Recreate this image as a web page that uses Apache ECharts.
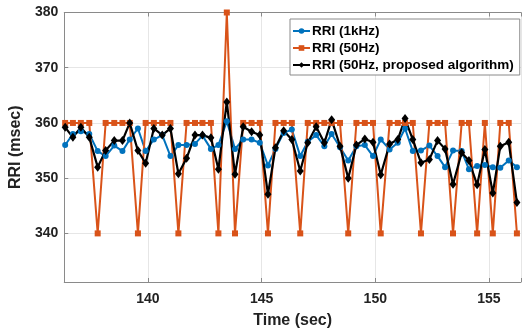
<!DOCTYPE html>
<html>
<head>
<meta charset="utf-8">
<script src="https://cdn.jsdelivr.net/npm/echarts@6.0.0/dist/echarts.min.js"></script>
<style>
html,body{margin:0;padding:0;background:#fff;}
#chart{width:524px;height:334px;}
</style>
</head>
<body>
<div id="chart"></div>
<script>
// Beat times (sec)
const times = [136.36,136.70,137.05,137.42,137.79,138.14,138.52,138.88,139.20,139.56,
  139.90,140.26,140.63,140.99,141.34,141.70,142.07,142.40,142.77,143.10,
  143.47,143.83,144.19,144.56,144.92,145.28,145.61,145.97,146.33,146.70,
  147.03,147.40,147.76,148.08,148.45,148.81,149.17,149.54,149.90,150.24,
  150.63,150.99,151.31,151.65,152.01,152.38,152.74,153.07,153.42,153.80,
  154.12,154.48,154.82,155.17,155.50,155.87,156.23];
// RRI (1kHz)
const rri1k = [356,358,358.5,358,354.9,354.0,355.9,354.9,357,359,
  354.9,357,357.8,354,356,356,356.2,357.7,355.3,356,
  360.3,355.3,357,357,356.4,352.3,355.3,358.2,358.8,354,
  356.6,357.8,355.8,358,355.6,353.2,355.8,356,354,357,
  355.2,356.4,359,354.9,355,355.9,354,352,355,354.9,
  351.6,352.2,352.4,352,351.9,353.2,352];
// RRI (50Hz)
const rri50 = [360,360,360,360,340,360,360,360,360,340,
  360,360,360,360,340,360,360,360,360,340,
  380,340,360,360,360,340,360,360,360,340,
  360,360,360,360,360,340,360,360,360,340,
  360,360,360,360,340,360,360,360,340,360,
  360,340,360,340,360,360,340];
// RRI (50Hz, proposed algorithm)
const rriProp = [359.2,357.4,359.2,357.4,352.0,355.0,356.8,356.8,360.0,355.0,
  352.7,359.0,357.8,359.0,350.8,353.6,357.8,357.8,357.3,351.6,
  363.8,350.7,359.3,358.4,357.8,347.1,355.5,358.6,357.0,351.3,
  356.4,359.3,356.4,360.6,355.8,350.0,356.0,357.1,356.5,350.6,
  356.2,357.0,360.8,357.0,352.8,353.4,356.8,355.3,348.9,354.6,
  353.2,348.8,355.2,347.3,355.8,356.5,345.6];
const seriesNames = ['RRI (1kHz)', 'RRI (50Hz)', 'RRI (50Hz, proposed algorithm)'];
const xRange = [136.32, 156.41];
const yRange = [331.2, 380];
const xTickStep = 5;
const yTickStep = 10;

const pairs = arr => times.map((t, i) => [t, arr[i]]);
const isMult = (v, s) => Math.abs(v / s - Math.round(v / s)) < 1e-6;
const FONT = '"Liberation Sans", Arial, sans-serif';
const axisGray = '#8a8a8a';

const chart = echarts.init(document.getElementById('chart'), null, {renderer: 'canvas'});
chart.setOption({
  animation: false,
  backgroundColor: '#ffffff',
  grid: {left: 64, top: 12.5, right: 0, bottom: 48, containLabel: false},
  legend: {
    orient: 'vertical',
    left: 290, top: 19,
    data: seriesNames,
    itemWidth: 17, itemHeight: 7, itemGap: 3,
    padding: [5, 6, 3, 2],
    backgroundColor: '#ffffff',
    borderColor: '#8a8a8a', borderWidth: 1, borderRadius: 0,
    textStyle: {fontFamily: FONT, fontSize: 13.5, fontWeight: 'bold', color: '#000', padding: [0,0,0,-3]}
  },
  xAxis: [{
    type: 'value', min: xRange[0], max: xRange[1], splitNumber: 4,
    name: 'Time (sec)', nameLocation: 'middle', nameGap: 31,
    nameTextStyle: {fontFamily: FONT, fontSize: 16, fontWeight: 'bold', color: '#222'},
    axisLine: {show: true, lineStyle: {color: axisGray, width: 1}},
    axisTick: {show: true, inside: true, length: 4, lineStyle: {color: axisGray}},
    axisLabel: {margin: 10, fontFamily: FONT, fontSize: 14, fontWeight: 'bold', color: '#222',
      formatter: v => isMult(v, xTickStep) ? String(Math.round(v)) : ''},
    splitLine: {show: true, lineStyle: {color: '#e6e6e6', width: 1}}
  }, {
    type: 'value', position: 'top', min: xRange[0], max: xRange[1], splitNumber: 4,
    axisLine: {show: true, lineStyle: {color: axisGray, width: 1}},
    axisTick: {show: true, inside: true, length: 4, lineStyle: {color: axisGray}},
    axisLabel: {show: false}, splitLine: {show: false}
  }],
  yAxis: {
    type: 'value', min: yRange[0], max: yRange[1], splitNumber: 5,
    name: 'RRI (msec)', nameLocation: 'middle', nameGap: 26,
    nameTextStyle: {fontFamily: FONT, fontSize: 16, fontWeight: 'bold', color: '#222'},
    axisLine: {show: true, lineStyle: {color: axisGray, width: 1}},
    axisTick: {show: true, inside: true, length: 4, lineStyle: {color: axisGray}},
    axisLabel: {margin: 6, fontFamily: FONT, fontSize: 14, fontWeight: 'bold', color: '#222',
      formatter: v => isMult(v, yTickStep) ? String(Math.round(v)) : ''},
    splitLine: {show: true, lineStyle: {color: '#e6e6e6', width: 1}}
  },
  series: [{
    name: seriesNames[0], type: 'line', data: pairs(rri1k), xAxisIndex: 0,
    symbol: 'circle', symbolSize: 6, showAllSymbol: true,
    lineStyle: {color: '#0072BD', width: 2}, itemStyle: {color: '#0072BD'}
  }, {
    name: seriesNames[1], type: 'line', data: pairs(rri50), xAxisIndex: 0,
    symbol: 'rect', symbolSize: 6, showAllSymbol: true,
    lineStyle: {color: '#D95319', width: 2}, itemStyle: {color: '#D95319'}
  }, {
    name: seriesNames[2], type: 'line', data: pairs(rriProp), xAxisIndex: 0,
    symbol: 'diamond', symbolSize: [7, 9], showAllSymbol: true,
    lineStyle: {color: '#000000', width: 2.2}, itemStyle: {color: '#000000'}
  }]
});
</script>
</body>
</html>
